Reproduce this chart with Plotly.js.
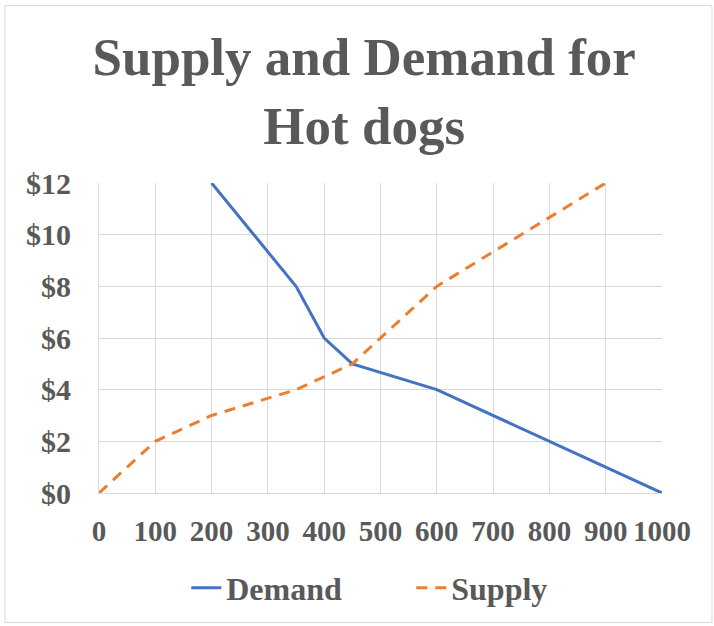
<!DOCTYPE html>
<html><head><meta charset="utf-8">
<script src="https://cdn.plot.ly/plotly-3.0.1.min.js"></script>
<style>html,body{margin:0;padding:0;background:#fff}</style>
</head><body><div id="chart" style="width:714px;height:626px"></div>
<script>
const demandQty = [200, 350, 400, 450, 600, 1000];
const demandPrice = [12, 8, 6, 5, 4, 0];
const supplyQty = [0, 100, 200, 350, 450, 600, 900];
const supplyPrice = [0, 2, 3, 4, 5, 8, 12];
const xTicks = [0, 100, 200, 300, 400, 500, 600, 700, 800, 900, 1000];
const yTicks = [0, 2, 4, 6, 8, 10, 12];
const yTickLabels = ['$0', '$2', '$4', '$6', '$8', '$10', '$12'];

const font = {family: '"Liberation Serif", "Times New Roman", serif', color: '#595959'};
const traces = [
  {x: demandQty, y: demandPrice, name: 'Demand', mode: 'lines', type: 'scatter',
   line: {color: '#4472C4', width: 3}},
  {x: supplyQty, y: supplyPrice, name: 'Supply', mode: 'lines', type: 'scatter',
   line: {color: '#ED7D31', width: 3, dash: '11px,8px'}}
];
const layout = {
  width: 714, height: 626,
  margin: {l: 99, r: 52, t: 183, b: 132},
  paper_bgcolor: '#fff', plot_bgcolor: '#fff',
  title: {text: '<b>Supply and Demand for<br>Hot dogs</b>', x: 0.471, xref: 'paper', xanchor: 'center',
    y: 1 - 75/626, yanchor: 'top', yref: 'container',
    font: Object.assign({}, font, {size: 53})},
  xaxis: {range: [0, 1000], tickvals: xTicks, ticktext: xTicks.map(String),
    showgrid: true, gridcolor: '#d9d9d9', gridwidth: 1, zeroline: false,
    showline: true, linecolor: '#d9d9d9', linewidth: 1, ticks: '',
    ticklabelstandoff: 12, fixedrange: true,
    tickfont: Object.assign({}, font, {size: 29, weight: 'bold'})},
  yaxis: {range: [0, 12], tickvals: yTicks, ticktext: yTickLabels,
    showgrid: true, gridcolor: '#d9d9d9', gridwidth: 1, zeroline: false,
    showline: true, linecolor: '#d9d9d9', linewidth: 1, ticks: '',
    ticklabelstandoff: 21, fixedrange: true,
    tickfont: Object.assign({}, font, {size: 30, weight: 'bold'})},
  showlegend: true,
  legend: {orientation: 'h', x: 0.155, xanchor: 'left', y: -0.302, yanchor: 'middle',
    entrywidth: 180, entrywidthmode: 'pixels',
    font: Object.assign({}, font, {size: 32, weight: 'bold'}),
    tracegroupgap: 0},
  shapes: [{type: 'rect', xref: 'paper', yref: 'paper',
    x0: (5 - 99) / 563, x1: (712 - 99) / 563, y0: (494 - 624) / 311, y1: (494 - 5) / 311,
    line: {color: '#d9d9d9', width: 1}, fillcolor: 'rgba(0,0,0,0)', layer: 'below'}]
};
Plotly.newPlot('chart', traces, layout, {displayModeBar: false, staticPlot: true});
</script></body></html>
